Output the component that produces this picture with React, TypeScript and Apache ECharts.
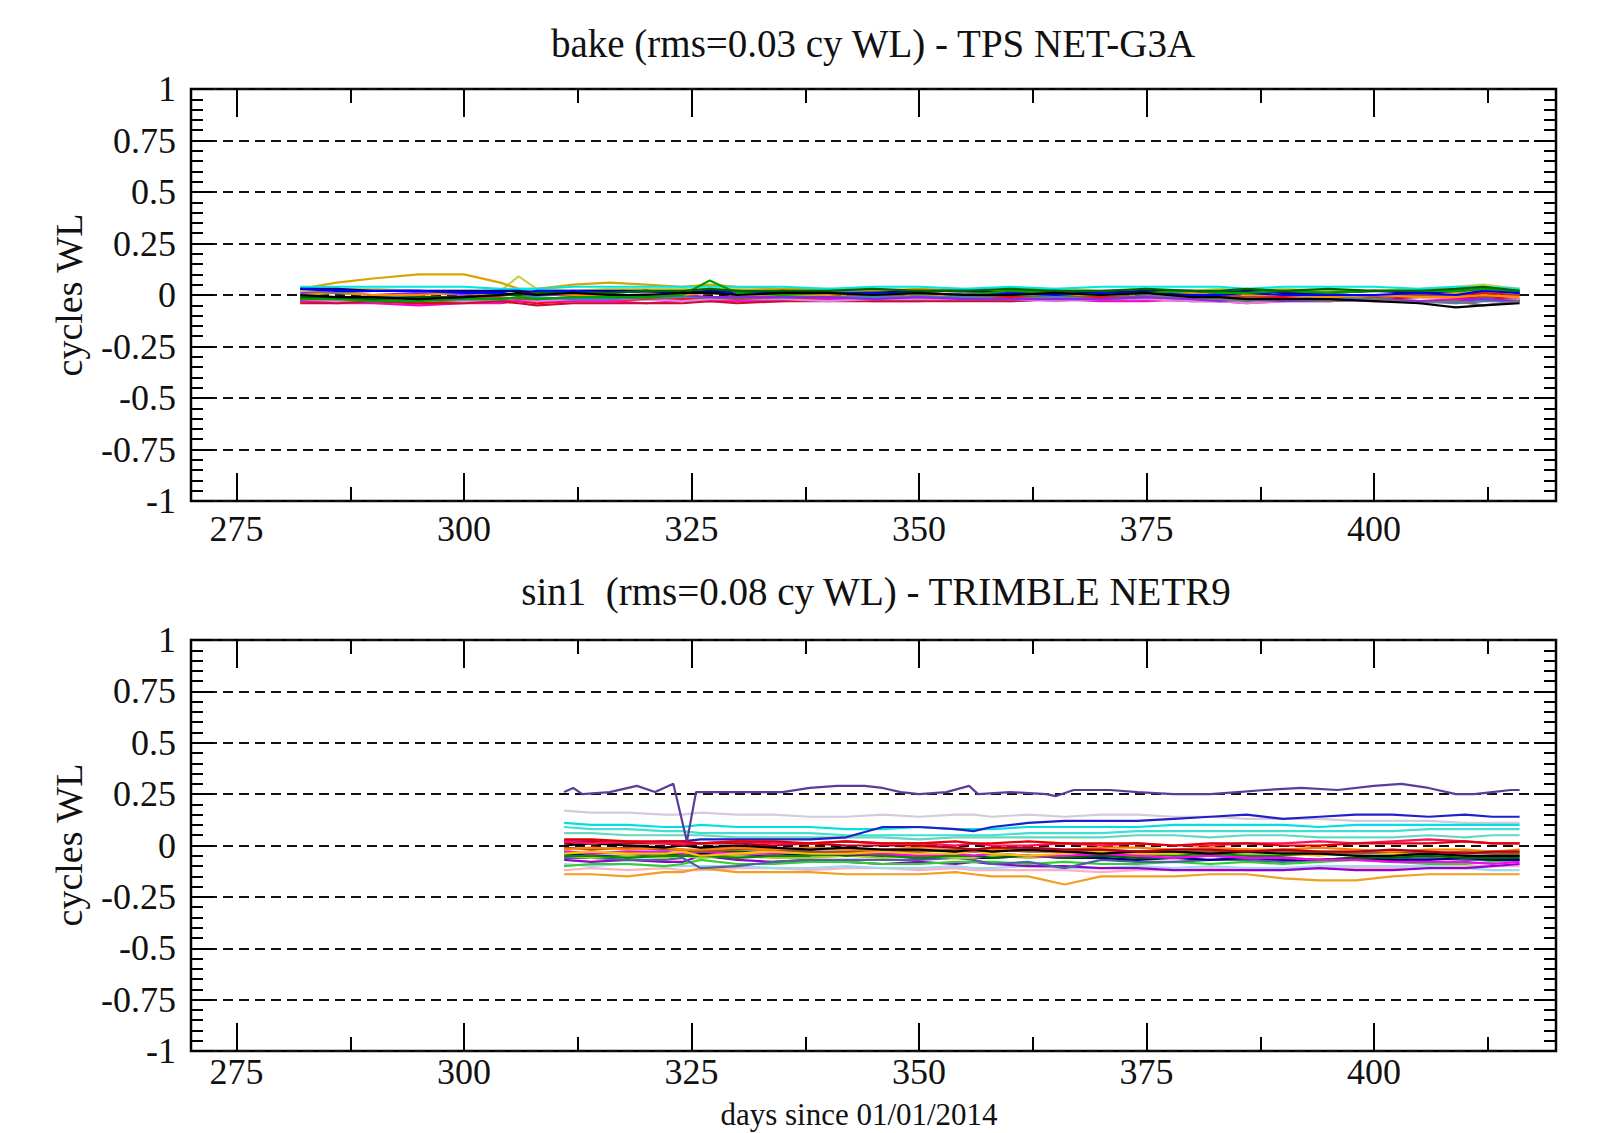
import React, { useEffect, useRef } from "react";
import * as echarts from "echarts";

// ---------- tick values ----------
const xMajor = [275, 300, 325, 350, 375, 400];
const xMinor = [287.5, 312.5, 337.5, 362.5, 387.5, 412.5];

// ---------- top panel (bake, TPS NET-G3A) ----------
const topDays = [282, 286, 290, 295, 300, 304, 306, 308, 312, 316, 320, 324, 327, 330, 335, 340, 345, 350, 355, 360, 365, 370, 375, 380, 383, 386, 390, 395, 400, 405, 409, 412, 416];
const topYellow = [0.03, 0.06, 0.08, 0.10, 0.10, 0.06, 0.03, 0.03, 0.05, 0.06, 0.05, 0.04, 0.05, 0.04, 0.03, 0.03, 0.02, 0.03, 0.02, 0.02, 0.02, 0.01, 0.02, 0.01, 0.02, 0.01, 0.02, 0.01, 0.02, 0.02, 0.01, 0.02, 0.01];
const topKhaki = [0.02, 0.03, 0.03, 0.02, 0.02, 0.02, 0.09, 0.03, 0.02, 0.03, 0.03, 0.03, 0.03, 0.03, 0.02, 0.02, 0.03, 0.02, 0.03, 0.02, 0.03, 0.02, 0.02, 0.02, 0.03, 0.02, 0.03, 0.02, 0.02, 0.03, 0.04, 0.05, 0.03];
const topCyan = [0.04, 0.04, 0.04, 0.04, 0.04, 0.03, 0.03, 0.03, 0.04, 0.04, 0.04, 0.04, 0.04, 0.04, 0.04, 0.03, 0.04, 0.04, 0.03, 0.04, 0.03, 0.04, 0.04, 0.04, 0.04, 0.03, 0.04, 0.04, 0.04, 0.03, 0.04, 0.04, 0.03];
const topBlue = [0.03, 0.02, 0.02, 0.02, 0.01, 0.01, 0.00, 0.02, 0.02, 0.01, 0.02, 0.01, 0.01, 0.01, 0.02, 0.01, 0.01, 0.01, 0.00, 0.01, 0.00, 0.01, 0.01, 0.00, 0.00, 0.01, 0.00, 0.00, 0.00, 0.01, 0.00, 0.02, 0.01];
const topDkGreen = [-0.01, -0.01, -0.02, -0.01, -0.01, 0.00, 0.00, 0.01, 0.01, 0.01, 0.02, 0.02, 0.03, 0.02, 0.02, 0.02, 0.03, 0.02, 0.02, 0.03, 0.02, 0.02, 0.03, 0.02, 0.02, 0.03, 0.02, 0.03, 0.02, 0.02, 0.03, 0.04, 0.02];
const topBlack = [0.00, -0.01, -0.01, -0.02, -0.01, 0.00, 0.01, 0.00, 0.01, 0.00, 0.00, 0.01, 0.01, 0.00, 0.01, 0.01, 0.00, 0.01, 0.00, 0.00, 0.01, 0.00, 0.01, -0.01, -0.01, -0.02, -0.02, -0.02, -0.03, -0.04, -0.06, -0.05, -0.04];
const topRed = [-0.03, -0.03, -0.03, -0.04, -0.03, -0.03, -0.03, -0.04, -0.03, -0.03, -0.02, -0.02, -0.02, -0.02, -0.02, -0.02, -0.02, -0.01, -0.01, -0.01, -0.01, -0.01, -0.01, -0.02, -0.01, -0.01, -0.01, 0.00, 0.00, 0.00, 0.00, 0.01, 0.00];
const topMagenta = [-0.03, -0.04, -0.04, -0.05, -0.04, -0.04, -0.03, -0.03, -0.03, -0.03, -0.04, -0.03, -0.03, -0.03, -0.03, -0.02, -0.03, -0.03, -0.02, -0.03, -0.02, -0.03, -0.03, -0.02, -0.03, -0.04, -0.03, -0.02, -0.03, -0.03, -0.02, -0.02, -0.03];
const topCrimson = [-0.04, -0.04, -0.03, -0.04, -0.04, -0.03, -0.04, -0.05, -0.04, -0.04, -0.04, -0.04, -0.03, -0.04, -0.03, -0.03, -0.03, -0.03, -0.03, -0.03, -0.02, -0.02, -0.02, -0.03, -0.03, -0.02, -0.02, -0.02, -0.02, -0.01, -0.01, -0.01, -0.02];
const topPurple = [0.01, 0.01, 0.00, 0.01, 0.00, 0.01, 0.00, 0.00, 0.00, -0.01, -0.01, 0.00, -0.01, -0.01, -0.01, -0.01, -0.02, -0.01, -0.02, -0.02, -0.02, -0.02, -0.01, -0.02, -0.03, -0.02, -0.03, -0.03, -0.02, -0.03, -0.03, -0.02, -0.03];
const topOrange = [0.00, 0.01, 0.00, 0.00, 0.01, 0.00, 0.00, 0.01, 0.00, 0.00, 0.00, 0.00, 0.01, 0.00, 0.00, 0.00, 0.01, 0.00, 0.00, 0.00, 0.00, 0.00, 0.01, 0.01, 0.01, 0.00, 0.00, -0.01, 0.00, -0.01, -0.01, 0.00, -0.01];
const topSteel = [-0.01, -0.02, -0.01, -0.01, -0.02, -0.02, -0.01, -0.01, -0.02, -0.02, -0.01, -0.01, -0.01, -0.01, -0.01, -0.01, -0.01, -0.01, -0.01, -0.02, -0.01, -0.02, -0.01, -0.01, -0.02, -0.02, -0.02, -0.01, -0.02, -0.03, -0.04, -0.03, -0.03];
const topGreen = [-0.02, -0.02, -0.03, -0.03, -0.02, -0.02, -0.01, -0.02, -0.01, -0.01, -0.01, 0.00, 0.07, 0.01, 0.00, 0.01, 0.00, 0.01, 0.00, 0.02, 0.01, 0.00, 0.01, 0.02, 0.01, 0.01, 0.02, 0.01, 0.02, 0.02, 0.02, 0.03, 0.02];
const topGray = [0.02, 0.01, 0.02, 0.02, 0.01, 0.02, 0.02, 0.02, 0.01, 0.02, 0.01, 0.02, 0.01, 0.01, 0.02, 0.01, 0.01, 0.00, 0.01, 0.00, 0.00, 0.01, 0.00, -0.01, -0.02, -0.03, -0.02, -0.03, -0.02, -0.04, -0.03, -0.05, -0.03];
const topNavy = [0.03, 0.03, 0.02, 0.02, 0.02, 0.02, 0.02, 0.01, 0.02, 0.02, 0.02, 0.01, 0.02, 0.02, 0.01, 0.01, 0.01, 0.02, 0.02, 0.01, 0.02, 0.01, 0.02, 0.02, 0.01, 0.02, 0.01, 0.01, 0.02, 0.01, 0.02, 0.03, 0.01];
const topViolet = [-0.02, -0.03, -0.02, -0.02, -0.03, -0.02, -0.02, -0.03, -0.02, -0.02, -0.02, -0.03, -0.02, -0.02, -0.02, -0.03, -0.02, -0.02, -0.02, -0.02, -0.03, -0.02, -0.02, -0.03, -0.03, -0.04, -0.03, -0.03, -0.02, -0.03, -0.04, -0.03, -0.02];
const topBrown = [-0.02, -0.01, -0.02, -0.02, -0.01, -0.01, -0.02, -0.02, -0.01, -0.01, -0.02, -0.01, -0.01, -0.02, -0.01, -0.01, 0.00, -0.01, -0.01, 0.00, -0.01, 0.00, -0.01, 0.00, 0.00, -0.01, 0.00, 0.00, -0.01, 0.00, 0.00, -0.01, 0.00];

// ---------- bottom panel (sin1, TRIMBLE NETR9) ----------
const botDays = [311, 314, 318, 322, 324, 326, 330, 334, 338, 342, 346, 350, 354, 356, 358, 362, 366, 370, 374, 378, 382, 386, 390, 394, 398, 402, 406, 410, 413, 416];
const botLilac = [0.17, 0.16, 0.16, 0.15, 0.15, 0.16, 0.15, 0.15, 0.14, 0.14, 0.15, 0.14, 0.15, 0.15, 0.14, 0.15, 0.14, 0.15, 0.15, 0.14, 0.14, 0.13, 0.13, 0.13, 0.12, 0.12, 0.12, 0.11, 0.11, 0.11];
const botCyan1 = [0.11, 0.10, 0.10, 0.09, 0.09, 0.10, 0.09, 0.09, 0.09, 0.08, 0.08, 0.09, 0.08, 0.08, 0.08, 0.09, 0.09, 0.09, 0.09, 0.10, 0.10, 0.10, 0.10, 0.09, 0.10, 0.10, 0.10, 0.10, 0.10, 0.10];
const botCyan2 = [0.09, 0.08, 0.08, 0.07, 0.07, 0.06, 0.06, 0.06, 0.06, 0.05, 0.05, 0.05, 0.05, 0.05, 0.05, 0.06, 0.06, 0.06, 0.07, 0.07, 0.07, 0.07, 0.07, 0.07, 0.07, 0.07, 0.08, 0.08, 0.08, 0.08];
const botAqua = [0.06, 0.06, 0.05, 0.05, 0.05, 0.05, 0.04, 0.04, 0.04, 0.04, 0.04, 0.03, 0.04, 0.04, 0.04, 0.04, 0.04, 0.04, 0.05, 0.05, 0.04, 0.05, 0.05, 0.04, 0.04, 0.04, 0.05, 0.04, 0.05, 0.05];
const botBlue = [0.02, 0.02, 0.01, 0.02, 0.02, 0.03, 0.03, 0.03, 0.03, 0.04, 0.09, 0.09, 0.08, 0.07, 0.09, 0.11, 0.12, 0.12, 0.12, 0.13, 0.14, 0.15, 0.13, 0.14, 0.15, 0.15, 0.14, 0.15, 0.14, 0.14];
const botRed = [0.03, 0.03, 0.02, 0.02, 0.02, 0.01, 0.02, 0.02, 0.01, 0.02, 0.01, 0.01, 0.02, 0.01, 0.01, 0.02, 0.01, 0.01, 0.01, 0.00, 0.01, 0.01, 0.00, 0.00, 0.01, 0.01, 0.01, 0.02, 0.01, 0.01];
const botDarkRed = [0.01, 0.02, 0.01, 0.01, 0.00, 0.01, 0.01, 0.00, 0.01, 0.00, 0.00, 0.00, -0.01, -0.02, -0.01, -0.01, -0.02, -0.02, -0.03, -0.02, -0.02, -0.03, -0.02, -0.03, -0.03, -0.02, -0.03, -0.04, -0.03, -0.03];
const botDeepPink = [0.02, 0.01, 0.02, 0.01, 0.01, 0.01, 0.02, 0.01, 0.01, 0.02, 0.01, 0.01, 0.00, 0.01, 0.00, 0.00, 0.01, 0.00, 0.01, 0.00, 0.00, 0.01, 0.01, 0.02, 0.01, 0.02, 0.03, 0.02, 0.01, 0.01];
const botBlack = [0.00, 0.01, 0.00, -0.01, 0.00, -0.01, 0.00, -0.01, -0.02, -0.01, -0.02, -0.02, -0.03, -0.02, -0.03, -0.02, -0.03, -0.04, -0.03, -0.03, -0.04, -0.03, -0.04, -0.04, -0.05, -0.05, -0.04, -0.05, -0.05, -0.05];
const botOrange = [-0.02, -0.01, -0.02, -0.01, -0.02, -0.02, -0.01, -0.02, -0.01, -0.02, -0.02, -0.01, -0.01, -0.02, -0.02, -0.01, -0.02, -0.01, -0.01, -0.02, -0.01, -0.02, -0.02, -0.01, -0.02, -0.03, -0.02, -0.02, -0.03, -0.02];
const botGold = [-0.04, -0.03, -0.04, -0.04, -0.03, -0.05, -0.04, -0.03, -0.04, -0.04, -0.03, -0.04, -0.04, -0.03, -0.04, -0.05, -0.04, -0.03, -0.04, -0.04, -0.03, -0.03, -0.04, -0.05, -0.03, -0.04, -0.04, -0.03, -0.04, -0.04];
const botGreen = [-0.05, -0.05, -0.06, -0.05, -0.05, -0.05, -0.06, -0.05, -0.05, -0.04, -0.05, -0.06, -0.05, -0.05, -0.04, -0.05, -0.05, -0.05, -0.04, -0.05, -0.04, -0.05, -0.05, -0.04, -0.05, -0.05, -0.04, -0.05, -0.05, -0.05];
const botDkGreen = [-0.03, -0.04, -0.03, -0.04, -0.04, -0.02, -0.03, -0.04, -0.03, -0.05, -0.04, -0.05, -0.04, -0.05, -0.06, -0.05, -0.06, -0.05, -0.06, -0.06, -0.05, -0.06, -0.06, -0.07, -0.06, -0.06, -0.05, -0.06, -0.06, -0.06];
const botLime = [-0.10, -0.09, -0.09, -0.10, -0.09, -0.07, -0.09, -0.09, -0.08, -0.08, -0.09, -0.09, -0.08, -0.08, -0.08, -0.09, -0.08, -0.09, -0.09, -0.08, -0.09, -0.08, -0.09, -0.08, -0.07, -0.08, -0.09, -0.09, -0.08, -0.07];
const botViolet = [-0.07, -0.08, -0.07, -0.08, -0.08, -0.05, -0.07, -0.08, -0.07, -0.08, -0.09, -0.08, -0.09, -0.08, -0.09, -0.10, -0.10, -0.11, -0.11, -0.12, -0.12, -0.12, -0.12, -0.11, -0.12, -0.12, -0.11, -0.11, -0.10, -0.09];
const botSlate = [-0.06, -0.06, -0.07, -0.07, -0.06, -0.11, -0.10, -0.08, -0.07, -0.07, -0.07, -0.07, -0.06, -0.07, -0.09, -0.08, -0.11, -0.07, -0.08, -0.08, -0.07, -0.07, -0.08, -0.07, -0.07, -0.07, -0.06, -0.07, -0.07, -0.07];
const botOrangeLow = [-0.14, -0.14, -0.15, -0.13, -0.13, -0.11, -0.13, -0.13, -0.13, -0.14, -0.14, -0.14, -0.13, -0.14, -0.15, -0.15, -0.19, -0.15, -0.15, -0.15, -0.14, -0.14, -0.16, -0.17, -0.17, -0.15, -0.14, -0.14, -0.14, -0.14];
const botPink = [-0.12, -0.11, -0.12, -0.11, -0.12, -0.12, -0.11, -0.11, -0.12, -0.11, -0.11, -0.12, -0.11, -0.12, -0.12, -0.12, -0.12, -0.13, -0.12, -0.12, -0.11, -0.12, -0.12, -0.11, -0.11, -0.11, -0.10, -0.10, -0.10, -0.10];
const botSky = [-0.09, -0.10, -0.09, -0.10, -0.10, -0.10, -0.10, -0.11, -0.11, -0.10, -0.11, -0.11, -0.10, -0.11, -0.11, -0.10, -0.11, -0.11, -0.10, -0.11, -0.10, -0.11, -0.11, -0.10, -0.10, -0.10, -0.10, -0.11, -0.12, -0.12];
const botMagenta = [-0.03, -0.04, -0.03, -0.03, -0.04, -0.03, -0.04, -0.04, -0.03, -0.04, -0.04, -0.05, -0.04, -0.05, -0.04, -0.05, -0.05, -0.04, -0.05, -0.06, -0.05, -0.06, -0.06, -0.07, -0.07, -0.08, -0.08, -0.08, -0.09, -0.08];
const botBrown = [-0.01, -0.02, -0.01, -0.02, -0.02, -0.03, -0.02, -0.02, -0.03, -0.03, -0.02, -0.03, -0.02, -0.03, -0.02, -0.03, -0.03, -0.02, -0.03, -0.03, -0.03, -0.02, -0.03, -0.03, -0.04, -0.03, -0.04, -0.03, -0.04, -0.04];
const botYellowGreen = [-0.05, -0.06, -0.05, -0.06, -0.05, -0.06, -0.05, -0.06, -0.06, -0.05, -0.06, -0.05, -0.06, -0.06, -0.05, -0.06, -0.05, -0.05, -0.05, -0.04, -0.04, -0.04, -0.04, -0.03, -0.03, -0.03, -0.04, -0.03, -0.03, -0.03];
const botNavy = [-0.04, -0.05, -0.05, -0.04, -0.05, -0.04, -0.05, -0.05, -0.04, -0.05, -0.05, -0.06, -0.05, -0.06, -0.06, -0.05, -0.06, -0.06, -0.07, -0.06, -0.07, -0.06, -0.07, -0.07, -0.06, -0.07, -0.07, -0.06, -0.07, -0.07];
const purpleDays = [311, 312, 313, 316, 319, 321, 323, 324.5, 325.5, 330, 335, 338, 341, 344, 346, 348, 350, 353, 355.5, 356.5, 360, 364, 365, 367, 371, 374, 378, 382, 385, 388, 392, 396, 400, 403, 406, 409, 411, 413, 415, 416];
const purpleVals = [0.26, 0.28, 0.25, 0.26, 0.29, 0.26, 0.30, 0.02, 0.26, 0.26, 0.26, 0.28, 0.29, 0.29, 0.28, 0.26, 0.25, 0.26, 0.29, 0.25, 0.26, 0.25, 0.24, 0.27, 0.27, 0.26, 0.25, 0.25, 0.26, 0.27, 0.28, 0.27, 0.29, 0.30, 0.28, 0.25, 0.25, 0.26, 0.27, 0.27];

const topSeriesDef = [
  { v: topRed, c: "#ff0000" }, { v: topMagenta, c: "#ff00cc" }, { v: topCrimson, c: "#c8102e" },
  { v: topViolet, c: "#e080e0" }, { v: topBrown, c: "#a0522d" }, { v: topSteel, c: "#4682b4" },
  { v: topPurple, c: "#8a2be2" }, { v: topOrange, c: "#ff8c00" }, { v: topGray, c: "#777777" },
  { v: topKhaki, c: "#c8d050" }, { v: topYellow, c: "#d9a400" }, { v: topCyan, c: "#00e5e5" },
  { v: topNavy, c: "#000080" }, { v: topBlue, c: "#0000ff" }, { v: topGreen, c: "#00a000" },
  { v: topDkGreen, c: "#006400" }, { v: topBlack, c: "#000000" },
];
const botSeriesDef = [
  { v: botLilac, c: "#d8c8dc" }, { v: botPink, c: "#ffb0c0" }, { v: botSky, c: "#9fd8f0" },
  { v: botOrangeLow, c: "#f0a020" }, { v: botViolet, c: "#9400d3" }, { v: botLime, c: "#30d030" },
  { v: botSlate, c: "#5060a0" }, { v: botNavy, c: "#000080" }, { v: botYellowGreen, c: "#a8c830" },
  { v: botGreen, c: "#009000" }, { v: botDkGreen, c: "#006400" }, { v: botMagenta, c: "#ff00ff" },
  { v: botGold, c: "#ffc000" }, { v: botBrown, c: "#a0522d" }, { v: botOrange, c: "#ff8000" },
  { v: botAqua, c: "#66d8c0" }, { v: botCyan2, c: "#40e0d0" }, { v: botCyan1, c: "#00e0e0" },
  { v: botBlue, c: "#2020c8" }, { v: botBlack, c: "#000000" }, { v: botDarkRed, c: "#b00020" },
  { v: botDeepPink, c: "#ff1060" }, { v: botRed, c: "#e00000" },
];

const FONT = '"Liberation Serif", "Times New Roman", serif';

const zip = (days: number[], vals: number[]) => days.map((d, i) => [d, vals[i]]);

export default function App() {
  const ref = useRef<HTMLDivElement>(null);
  useEffect(() => {
    if (!ref.current) return;
    const chart = echarts.init(ref.current, undefined, { renderer: "svg" });
    const grids = [
      { left: 191, top: 89, width: 1365, height: 412 },
      { left: 191, top: 640, width: 1365, height: 411 },
    ].map((g) => ({ ...g, show: true, borderColor: "#000", borderWidth: 2.5, backgroundColor: "transparent" }));

    const tickStyle = { color: "#000", width: 2 };
    const xLabelStyle = { fontFamily: FONT, fontSize: 36, color: "#111" };
    const yLabelStyle = { fontFamily: FONT, fontSize: 36, color: "#111" };
    const xAxes: any[] = [];
    const yAxes: any[] = [];
    [0, 1].forEach((g) => {
      (["bottom", "top"] as const).forEach((pos) => {
        xAxes.push({
          gridIndex: g, type: "value", min: 270, max: 420, position: pos,
          axisLine: { show: false, onZero: false },
          axisTick: { show: true, inside: true, length: 28, customValues: xMajor, lineStyle: tickStyle },
          axisLabel: pos === "bottom" ? { show: true, customValues: xMajor, margin: g === 0 ? 10 : 3, ...xLabelStyle } : { show: false },
          splitLine: { show: false },
        });
        xAxes.push({
          gridIndex: g, type: "value", min: 270, max: 420, position: pos,
          axisLine: { show: false, onZero: false },
          axisTick: { show: true, inside: true, length: 14, customValues: xMinor, lineStyle: tickStyle },
          axisLabel: { show: false },
          splitLine: { show: false },
        });
      });
      (["left", "right"] as const).forEach((pos) => {
        yAxes.push({
          gridIndex: g, type: "value", min: -1, max: 1, interval: 0.25, position: pos,
          axisLine: { show: false, onZero: false },
          axisTick: { show: true, inside: true, length: 22, lineStyle: tickStyle },
          minorTick: { show: true, splitNumber: 5, length: 12, lineStyle: tickStyle },
          axisLabel: pos === "left" ? { show: true, margin: 15, ...yLabelStyle } : { show: false },
          splitLine: pos === "left" ? { show: true, lineStyle: { color: "#111", width: 2, type: [10, 6] } } : { show: false },
        });
      });
    });

    const series: any[] = [];
    topSeriesDef.forEach((s) => series.push({
      type: "line", xAxisIndex: 0, yAxisIndex: 0, showSymbol: false, symbol: "none",
      data: zip(topDays, s.v), lineStyle: { color: s.c, width: 2.2 }, itemStyle: { color: s.c },
    }));
    botSeriesDef.forEach((s) => series.push({
      type: "line", xAxisIndex: 4, yAxisIndex: 2, showSymbol: false, symbol: "none",
      data: zip(botDays, s.v), lineStyle: { color: s.c, width: 2.2 }, itemStyle: { color: s.c },
    }));
    series.push({
      type: "line", xAxisIndex: 4, yAxisIndex: 2, showSymbol: false, symbol: "none",
      data: zip(purpleDays, purpleVals), lineStyle: { color: "#5a3c9c", width: 2.2 }, itemStyle: { color: "#5a3c9c" },
    });

    const txt = (text: string, x: number, y: number, size: number, rot = 0) => ({
      type: "text", x, y, rotation: rot, silent: true,
      style: { text, fill: "#111", font: `${size}px ${FONT}`, textAlign: "center", textVerticalAlign: "middle" },
    });

    chart.setOption({
      animation: false,
      backgroundColor: "#ffffff",
      grid: grids,
      xAxis: xAxes,
      yAxis: yAxes,
      series,
      graphic: [
        txt("bake (rms=0.03 cy WL) - TPS NET-G3A", 873, 43, 39),
        txt("sin1  (rms=0.08 cy WL) - TRIMBLE NETR9", 876, 591, 39),
        txt("cycles WL", 69, 295, 38, Math.PI / 2),
        txt("cycles WL", 69, 845, 38, Math.PI / 2),
        txt("days since 01/01/2014", 859, 1114, 31),
      ],
    });
    return () => chart.dispose();
  }, []);
  return <div ref={ref} style={{ position: "absolute", left: 0, top: 0, width: 1597, height: 1133 }} />;
}
